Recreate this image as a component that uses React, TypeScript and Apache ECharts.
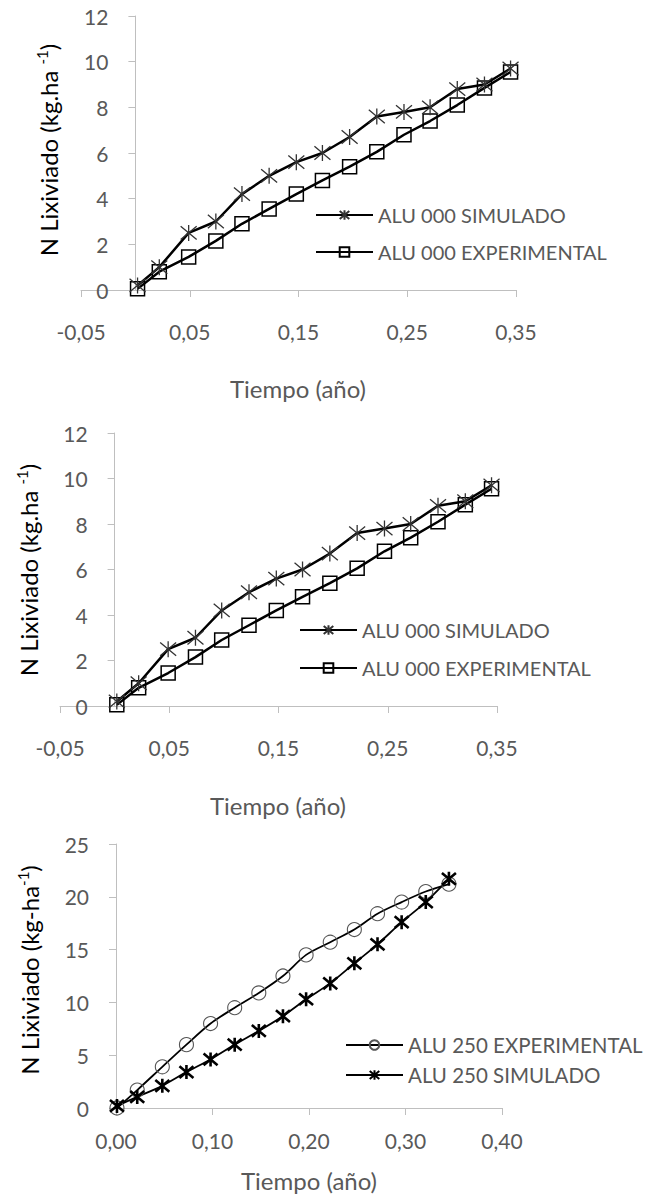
import React, { useEffect, useRef } from "react";
import * as echarts from "echarts";

// ---- Data ----
const timeA = [0.002, 0.022, 0.049, 0.074, 0.098, 0.123, 0.148, 0.172, 0.197, 0.222, 0.247, 0.271, 0.296, 0.321, 0.345];
const alu000Sim = [0.2, 1.0, 2.5, 3.0, 4.2, 5.0, 5.6, 6.0, 6.7, 7.6, 7.8, 8.0, 8.8, 9.0, 9.7];
const alu000Exp = [0.05, 0.8, 1.45, 2.15, 2.9, 3.55, 4.2, 4.8, 5.4, 6.05, 6.8, 7.4, 8.1, 8.85, 9.55];

const timeB = [0.001, 0.022, 0.048, 0.073, 0.098, 0.123, 0.148, 0.173, 0.197, 0.222, 0.247, 0.271, 0.296, 0.321, 0.345];
const alu250Exp = [0, 1.7, 3.9, 6.0, 8.0, 9.5, 10.9, 12.5, 14.5, 15.7, 16.9, 18.4, 19.5, 20.5, 21.2];
const alu250Sim = [0.2, 1.05, 2.1, 3.4, 4.6, 6.0, 7.3, 8.7, 10.3, 11.8, 13.7, 15.5, 17.6, 19.5, 21.7];

const NAME_SIM0 = "ALU 000 SIMULADO";
const NAME_EXP0 = "ALU 000 EXPERIMENTAL";
const NAME_EXP250 = "ALU 250 EXPERIMENTAL";
const NAME_SIM250 = "ALU 250 SIMULADO";
const X_TITLE = "Tiempo (año)";

const pairs = (xs: number[], ys: number[]) => xs.map((x, i) => [x, ys[i]]);

const FONT = "Lato";
const GRAY = "#595959";
const AXIS = "#bfbfbf";
const STAR = "path://M0,0 L20,20 M0,20 L20,0 M10,-2 L10,22";

const fmt = (v: number) => v.toFixed(2).replace(".", ",");

function xAxisCfg(grid: number, min: number, max: number, interval: number, margin: number) {
  return {
    type: "value",
    gridIndex: grid,
    min,
    max,
    interval,
    axisLine: { show: true, onZero: false, lineStyle: { color: AXIS, width: 1 } },
    axisTick: { show: true, length: 7, lineStyle: { color: AXIS } },
    splitLine: { show: false },
    axisLabel: { color: GRAY, fontSize: 21, fontFamily: FONT, margin, formatter: fmt },
  };
}
function yAxisCfg(grid: number, max: number, interval: number, offset: number) {
  return {
    type: "value",
    gridIndex: grid,
    min: 0,
    max,
    interval,
    offset,
    axisLine: { show: true, onZero: false, lineStyle: { color: AXIS, width: 1 } },
    axisTick: { show: true, length: 7, lineStyle: { color: AXIS } },
    splitLine: { show: false },
    axisLabel: { color: GRAY, fontSize: 21, fontFamily: FONT, margin: 27 },
  };
}

function simSeries(name: string, idx: number, xs: number[], ys: number[]) {
  return {
    type: "line",
    name,
    xAxisIndex: idx,
    yAxisIndex: idx,
    data: pairs(xs, ys),
    symbol: STAR,
    symbolSize: 16,
    lineStyle: { color: "#000", width: 2.5 },
    itemStyle: { color: "rgba(0,0,0,0)", borderColor: "#333", borderWidth: 1.3 },
    z: 3,
  };
}
function expSeries(name: string, idx: number, xs: number[], ys: number[]) {
  return {
    type: "line",
    name,
    xAxisIndex: idx,
    yAxisIndex: idx,
    data: pairs(xs, ys),
    symbol: "rect",
    symbolSize: 14,
    lineStyle: { color: "#000", width: 2.5 },
    itemStyle: { color: "rgba(0,0,0,0)", borderColor: "#000", borderWidth: 1.5 },
    z: 2,
  };
}

function legendCfg(left: number, top: number, gap: number, size: number, data: string[]) {
  return {
    orient: "vertical",
    left,
    top,
    padding: 0,
    itemGap: gap,
    itemWidth: 57,
    itemHeight: 12,
    textStyle: { color: GRAY, fontSize: size, fontFamily: FONT, lineHeight: 24 },
    data,
  };
}

const yTitleRich = {
  a: { fontSize: 24, fontFamily: FONT, color: GRAY },
  s: { fontSize: 15, fontFamily: FONT, color: GRAY, padding: [0, 0, 13, 0] },
};

function yTitle(x: number, y: number, text: string) {
  return {
    type: "text",
    x,
    y,
    rotation: Math.PI / 2,
    style: { text, rich: yTitleRich, align: "center", verticalAlign: "middle" },
  };
}
function xTitle(x: number, y: number) {
  return {
    type: "text",
    x,
    y,
    style: {
      text: X_TITLE,
      fontSize: 24,
      fontFamily: FONT,
      fill: GRAY,
      align: "center",
      verticalAlign: "middle",
    },
  };
}

export default function App() {
  const ref = useRef<HTMLDivElement>(null);
  useEffect(() => {
    if (!ref.current) return;
    const chart = echarts.init(ref.current, undefined, { renderer: "svg" });
    chart.setOption({
      animation: false,
      backgroundColor: "#fff",
      textStyle: { fontFamily: FONT },
      grid: [
        { left: 81, top: 16, width: 435, height: 274 },
        { left: 60, top: 433, width: 437, height: 273 },
        { left: 116, top: 844, width: 386, height: 264 },
      ],
      xAxis: [
        xAxisCfg(0, -0.05, 0.35, 0.1, 31),
        xAxisCfg(1, -0.05, 0.35, 0.1, 31),
        xAxisCfg(2, 0, 0.4, 0.1, 22),
      ],
      yAxis: [
        yAxisCfg(0, 12, 2, -54.4),
        yAxisCfg(1, 12, 2, -54.6),
        yAxisCfg(2, 25, 5, 0),
      ],
      legend: [
        legendCfg(315, 203, 13, 20, [NAME_SIM0, NAME_EXP0]),
        legendCfg(299, 618, 14, 20, [NAME_SIM0, NAME_EXP0]),
        legendCfg(345, 1033, 6, 20.5, [NAME_EXP250, NAME_SIM250]),
      ],
      series: [
        simSeries(NAME_SIM0, 0, timeA, alu000Sim),
        expSeries(NAME_EXP0, 0, timeA, alu000Exp),
        simSeries(NAME_SIM0, 1, timeA, alu000Sim),
        expSeries(NAME_EXP0, 1, timeA, alu000Exp),
        {
          type: "line",
          name: NAME_EXP250,
          xAxisIndex: 2,
          yAxisIndex: 2,
          data: pairs(timeB, alu250Exp),
          smooth: 0.3,
          symbol: "circle",
          symbolSize: 14,
          lineStyle: { color: "#000", width: 1.8 },
          itemStyle: { color: "rgba(0,0,0,0)", borderColor: "#555", borderWidth: 1.1 },
        },
        {
          type: "line",
          name: NAME_SIM250,
          xAxisIndex: 2,
          yAxisIndex: 2,
          data: pairs(timeB, alu250Sim),
          smooth: 0.2,
          symbol: STAR,
          symbolSize: 14,
          lineStyle: { color: "#000", width: 1.8 },
          itemStyle: { color: "rgba(0,0,0,0)", borderColor: "#000", borderWidth: 2.6 },
        },
      ],
      graphic: [
        yTitle(48, 150, "{a|N Lixiviado (kg.ha }{s|-1}{a|)}"),
        yTitle(28, 570, "{a|N Lixiviado (kg.ha }{s|-1}{a|)}"),
        yTitle(29, 970, "{a|N Lixiviado (kg-ha}{s|-1}{a|)}"),
        xTitle(298, 388),
        xTitle(278, 805),
        xTitle(309, 1180),
      ],
    });
    return () => chart.dispose();
  }, []);
  return <div ref={ref} style={{ position: "absolute", left: 0, top: 0, width: 646, height: 1200 }} />;
}
